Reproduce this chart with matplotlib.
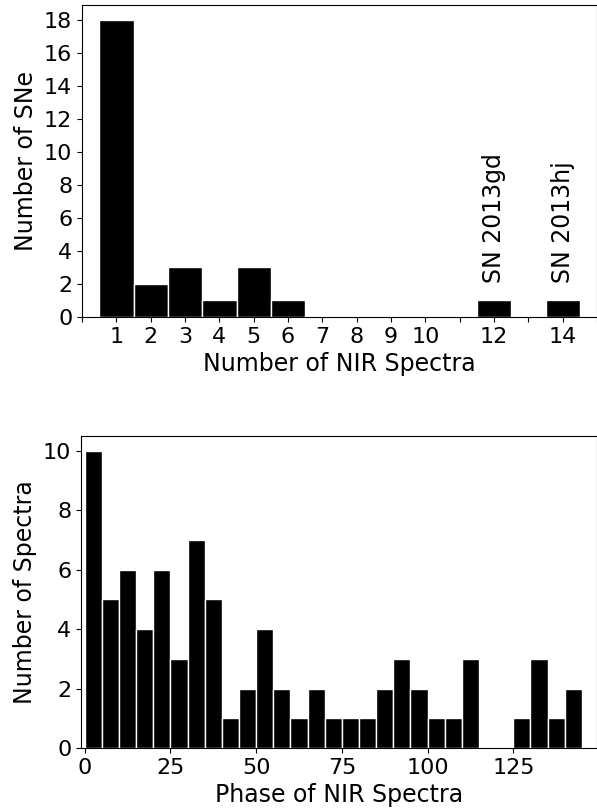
import numpy as np
import matplotlib.pyplot as plt

# number of NIR spectra per SN
n_spectra = [1, 2, 3, 4, 5, 6, 12, 14]
n_sne = [18, 2, 3, 1, 3, 1, 1, 1]
tick_pos = list(range(0, 16))
tick_lab = ["", "1", "2", "3", "4", "5", "6", "7", "8", "9", "10", "", "12", "", "14", ""]
notes = {12: "SN 2013gd", 14: "SN 2013hj"}

# phase histogram (5 day bins)
phase_edges = np.arange(0, 150, 5)
phase_counts = [10, 5, 6, 4, 6, 3, 7, 5, 1, 2, 4, 2, 1, 2, 1, 1, 1, 2, 3, 2,
                1, 1, 3, 0, 0, 1, 3, 1, 2]

plt.rcParams['font.size'] = 16

fig = plt.figure(figsize=(5.97, 8.09), dpi=100)
ax1 = fig.add_axes([82/597, 1 - 317/809, 515/597, 312/809])
ax2 = fig.add_axes([81/597, 1 - 748/809, 516/597, 312/809])

ax1.bar(n_spectra, n_sne, width=1.0, color="black", edgecolor="white", linewidth=1)
for x, name in notes.items():
    ax1.text(x, 2.05, name, rotation=90, ha="center", va="bottom", fontsize=17)
ax1.set_xlim(0, 14.95)
ax1.set_ylim(0, 18.9)
ax1.set_xticks(tick_pos)
ax1.set_xticklabels(tick_lab)
ax1.set_yticks(range(0, 19, 2))
ax1.set_xlabel("Number of NIR Spectra", fontsize=17)
ax1.set_ylabel("Number of SNe", fontsize=17)

ax2.bar(phase_edges[:-1], phase_counts, width=5, align="edge",
        color="black", edgecolor="white", linewidth=1)
ax2.set_xlim(-1.1, 149.4)
ax2.set_ylim(0, 10.5)
ax2.set_xticks([0, 25, 50, 75, 100, 125])
ax2.set_yticks(range(0, 11, 2))
ax2.set_xlabel("Phase of NIR Spectra", fontsize=17)
ax2.set_ylabel("Number of Spectra", fontsize=17)

fig.savefig("out.png", dpi=100)
